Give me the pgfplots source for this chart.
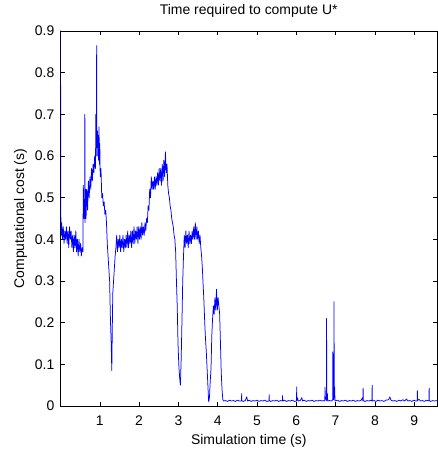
\documentclass[border=0pt]{standalone}
\usepackage{pgfplots}
\pgfplotsset{compat=1.18}
\usepackage{fontspec}
\setmainfont{Liberation Sans}
\begin{document}
\begin{tikzpicture}
\begin{axis}[
  scale only axis, width=376.5bp, height=375bp,
  xmin=0, xmax=9.58, ymin=0, ymax=0.9,
  xtick={1,2,3,4,5,6,7,8,9},
  ytick={0,0.1,0.2,0.3,0.4,0.5,0.6,0.7,0.8,0.9},
  yticklabels={0,0.1,0.2,0.3,0.4,0.5,0.6,0.7,0.8,0.9},
  xticklabels={1,2,3,4,5,6,7,8,9},
  tick align=inside, major tick length=4.5bp,
  axis line style={black, line width=0.6bp},
  tick style={black, line width=0.6bp},
  /pgf/number format/assume math mode=true,
  tick label style={font=\fontsize{14}{16}\selectfont},
  label style={font=\fontsize{14}{16}\selectfont},
  title style={font=\fontsize{14}{16}\selectfont, at={(axis description cs:0.5,1)}, anchor=base, yshift=11bp},
  xticklabel style={anchor=base, yshift=-19bp},
  yticklabel style={anchor=east, inner sep=0pt, xshift=-6bp},
  xlabel style={at={(axis description cs:0.5,0)}, anchor=base, yshift=-38bp},
  ylabel style={at={(axis description cs:-0.106,0.5)}, anchor=center},
  title={Time required to compute U*},
  xlabel={Simulation time (s)},
  ylabel={Computational cost (s)},
]
\addplot[blue, line width=0.75bp, mark=none, line join=round] coordinates {
(0,0.93) (0.01,0.43) (0.02,0.41) (0.03,0.44) (0.05,0.40) (0.07,0.43) (0.09,0.39) (0.11,0.42)
(0.13,0.40) (0.15,0.43) (0.17,0.39) (0.19,0.42) (0.21,0.38) (0.23,0.43) (0.25,0.40) (0.27,0.42)
(0.29,0.38) (0.31,0.41) (0.33,0.37) (0.35,0.41) (0.37,0.38) (0.39,0.42) (0.41,0.37) (0.43,0.40)
(0.45,0.36) (0.47,0.40) (0.49,0.37) (0.51,0.39) (0.53,0.36) (0.55,0.38) (0.57,0.37) (0.58,0.53)
(0.60,0.45) (0.615,0.50) (0.62,0.70) (0.625,0.44) (0.64,0.52) (0.65,0.45) (0.67,0.52) (0.69,0.47)
(0.71,0.54) (0.73,0.50) (0.75,0.55) (0.77,0.52) (0.79,0.57) (0.81,0.54) (0.83,0.58) (0.85,0.56)
(0.87,0.60) (0.89,0.57) (0.90,0.70) (0.91,0.60) (0.92,0.865) (0.925,0.62) (0.94,0.66) (0.95,0.60)
(0.96,0.65) (0.97,0.59) (0.98,0.67) (0.99,0.58) (1.00,0.63) (1.01,0.55) (1.03,0.57) (1.05,0.50)
(1.07,0.51) (1.09,0.48) (1.11,0.49) (1.13,0.46) (1.15,0.47) (1.17,0.44) (1.19,0.39) (1.21,0.36)
(1.23,0.33) (1.25,0.30) (1.27,0.21) (1.29,0.15) (1.305,0.085) (1.32,0.20) (1.33,0.27) (1.35,0.30)
(1.37,0.33) (1.39,0.36) (1.41,0.38) (1.43,0.41) (1.45,0.37) (1.47,0.40) (1.49,0.38) (1.51,0.41)
(1.53,0.37) (1.55,0.40) (1.57,0.38) (1.59,0.41) (1.61,0.37) (1.63,0.40) (1.65,0.38) (1.67,0.41)
(1.69,0.38) (1.71,0.42) (1.73,0.38) (1.75,0.41) (1.77,0.39) (1.79,0.42) (1.81,0.38) (1.83,0.42)
(1.85,0.39) (1.87,0.43) (1.89,0.39) (1.91,0.42) (1.93,0.40) (1.95,0.43) (1.97,0.39) (1.99,0.43)
(2.01,0.40) (2.03,0.43) (2.05,0.40) (2.07,0.44) (2.09,0.41) (2.11,0.43) (2.13,0.41) (2.15,0.44)
(2.17,0.42) (2.19,0.45) (2.21,0.44) (2.23,0.48) (2.25,0.47) (2.27,0.52) (2.29,0.50) (2.31,0.55)
(2.33,0.52) (2.35,0.54) (2.37,0.52) (2.39,0.55) (2.41,0.52) (2.43,0.55) (2.45,0.53) (2.47,0.56)
(2.49,0.53) (2.51,0.57) (2.53,0.54) (2.55,0.57) (2.57,0.53) (2.59,0.58) (2.61,0.54) (2.63,0.59)
(2.65,0.55) (2.67,0.61) (2.69,0.56) (2.71,0.58) (2.73,0.53) (2.75,0.51) (2.77,0.50) (2.79,0.48)
(2.81,0.47) (2.83,0.45) (2.85,0.44) (2.87,0.43) (2.89,0.41) (2.91,0.40) (2.93,0.37) (2.95,0.30)
(2.97,0.24) (2.99,0.15) (3.01,0.10) (3.03,0.07) (3.05,0.05) (3.07,0.11) (3.09,0.20) (3.11,0.30)
(3.13,0.36) (3.15,0.41) (3.17,0.38) (3.19,0.42) (3.21,0.39) (3.23,0.41) (3.25,0.38) (3.27,0.42)
(3.29,0.39) (3.31,0.41) (3.33,0.39) (3.35,0.42) (3.37,0.40) (3.39,0.43) (3.41,0.40) (3.43,0.44)
(3.45,0.40) (3.47,0.43) (3.49,0.40) (3.51,0.42) (3.53,0.39) (3.55,0.41) (3.57,0.38) (3.59,0.36)
(3.61,0.33) (3.63,0.29) (3.65,0.25) (3.67,0.20) (3.69,0.16) (3.71,0.13) (3.73,0.09) (3.75,0.05)
(3.77,0.01) (3.79,0.02) (3.81,0.06) (3.83,0.09) (3.85,0.17) (3.87,0.21) (3.89,0.24) (3.91,0.22)
(3.93,0.26) (3.95,0.23) (3.97,0.28) (3.99,0.23) (4.01,0.26) (4.03,0.24) (4.05,0.22) (4.07,0.15)
(4.09,0.08) (4.11,0.04) (4.13,0.015) (4.15,0.012)
(4.20,0.013) (4.25,0.011) (4.30,0.014) (4.35,0.012) (4.40,0.013) (4.45,0.011) (4.50,0.014)
(4.55,0.012) (4.605,0.012) (4.61,0.030) (4.615,0.013) (4.65,0.011) (4.70,0.013) (4.74,0.022)
(4.76,0.012) (4.80,0.014) (4.85,0.011) (4.90,0.013) (4.95,0.012) (5.00,0.014) (5.05,0.011)
(5.10,0.013) (5.15,0.012) (5.20,0.014) (5.25,0.011) (5.305,0.012) (5.31,0.027) (5.315,0.013)
(5.35,0.011) (5.40,0.013) (5.45,0.012) (5.50,0.014) (5.55,0.011) (5.60,0.013) (5.645,0.012)
(5.65,0.025) (5.655,0.012) (5.70,0.014) (5.75,0.011) (5.80,0.013) (5.85,0.012) (5.90,0.014)
(5.95,0.011) (6.005,0.012) (6.01,0.046) (6.015,0.013) (6.03,0.020) (6.05,0.012) (6.10,0.013)
(6.14,0.020) (6.16,0.012) (6.20,0.014) (6.25,0.011) (6.30,0.013) (6.35,0.012) (6.40,0.014)
(6.45,0.011) (6.50,0.013) (6.55,0.012) (6.60,0.014) (6.65,0.012) (6.70,0.013) (6.725,0.012)
(6.73,0.045) (6.74,0.020) (6.765,0.013) (6.77,0.21) (6.775,0.014) (6.79,0.030) (6.80,0.012)
(6.85,0.013) (6.90,0.012) (6.925,0.015) (6.93,0.13) (6.94,0.02) (6.955,0.015) (6.96,0.25)
(6.965,0.02) (6.975,0.045) (6.985,0.013) (7.00,0.012) (7.05,0.014) (7.10,0.011) (7.15,0.013)
(7.20,0.012) (7.25,0.014) (7.30,0.011) (7.35,0.013) (7.40,0.012) (7.45,0.014) (7.50,0.011)
(7.55,0.013) (7.60,0.012) (7.65,0.014) (7.68,0.020) (7.695,0.012) (7.70,0.042) (7.705,0.013)
(7.75,0.011) (7.80,0.013) (7.85,0.012) (7.90,0.014) (7.925,0.012) (7.93,0.050) (7.935,0.012)
(7.98,0.013) (8.03,0.011) (8.08,0.014) (8.13,0.012) (8.18,0.013) (8.23,0.011) (8.28,0.014)
(8.35,0.015) (8.38,0.022) (8.41,0.014) (8.46,0.012) (8.51,0.013) (8.56,0.011) (8.61,0.014)
(8.66,0.012) (8.71,0.015) (8.76,0.012) (8.80,0.017) (8.84,0.012) (8.89,0.013) (8.94,0.011)
(8.99,0.014) (9.04,0.012) (9.075,0.012) (9.08,0.037) (9.085,0.013) (9.12,0.016) (9.16,0.012)
(9.21,0.013) (9.26,0.011) (9.31,0.014) (9.375,0.012) (9.38,0.043) (9.385,0.013) (9.42,0.011)
(9.47,0.013) (9.52,0.012) (9.58,0.013)
};
\end{axis}
\pgfresetboundingbox
\path[use as bounding box] (current axis.south west) ++(-60.5bp,-45bp) rectangle ++(438bp,451bp);
\end{tikzpicture}
\end{document}
